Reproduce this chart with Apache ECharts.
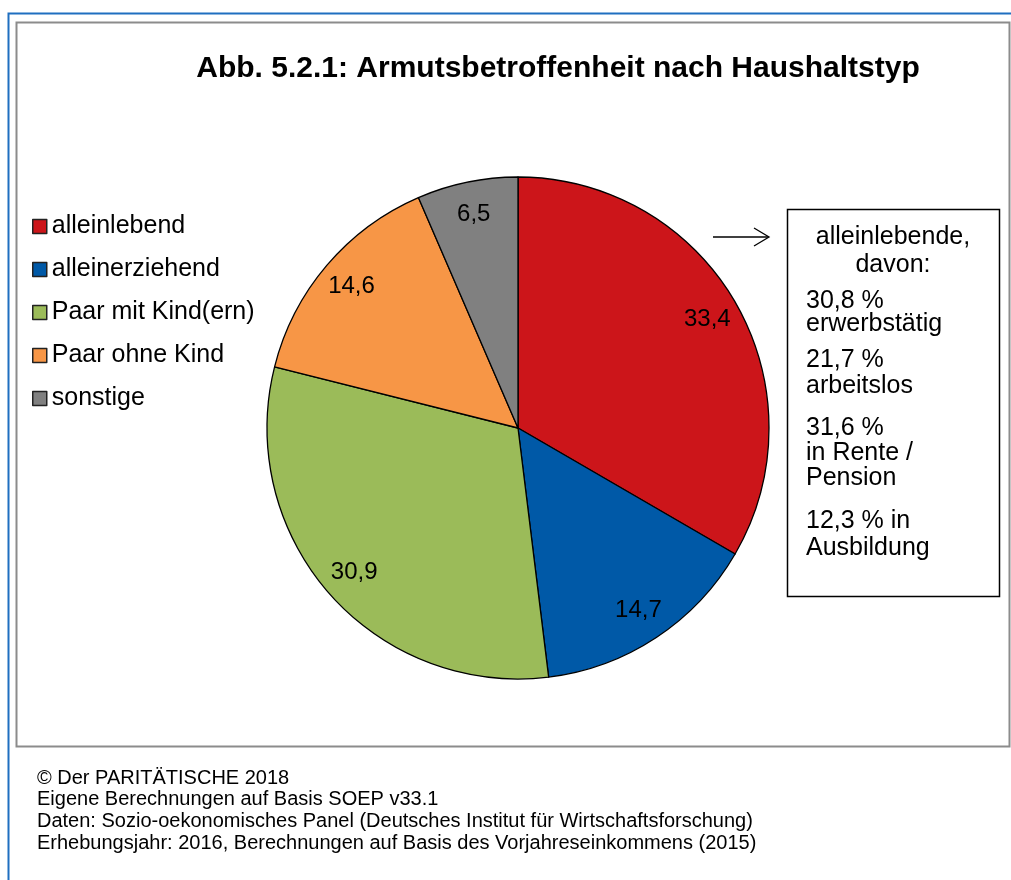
<!DOCTYPE html>
<html>
<head>
<meta charset="utf-8">
<script src="https://cdn.jsdelivr.net/npm/echarts@6/dist/echarts.min.js"></script>
<style>
  html, body { margin:0; padding:0; background:#fff; }
  #main { width:1011px; height:880px; }
</style>
</head>
<body>
<div id="main"></div>
<script>
// Haushaltstypen und Anteile (in %)
var kategorien = ['alleinlebend', 'alleinerziehend', 'Paar mit Kind(ern)', 'Paar ohne Kind', 'sonstige'];
var anteile = [33.4, 14.7, 30.9, 14.6, 6.5];
var farben = ['#CC151A', '#0059A7', '#9BBB59', '#F79646', '#808080'];

var boxZeilen = [
    {text:'alleinlebende,', x:893, y:237, align:'center'},
    {text:'davon:', x:893, y:265, align:'center'},
    {text:'30,8 %', x:806, y:301},
    {text:'erwerbstätig', x:806, y:324},
    {text:'21,7 %', x:806, y:360},
    {text:'arbeitslos', x:806, y:386},
    {text:'31,6 %', x:806, y:428},
    {text:'in Rente /', x:806, y:453},
    {text:'Pension', x:806, y:478},
    {text:'12,3 % in', x:806, y:521},
    {text:'Ausbildung', x:806, y:548}
];
var fussnoten = [
    '© Der PARITÄTISCHE 2018',
    'Eigene Berechnungen auf Basis SOEP v33.1',
    'Daten: Sozio-oekonomisches Panel (Deutsches Institut für Wirtschaftsforschung)',
    'Erhebungsjahr: 2016, Berechnungen auf Basis des Vorjahreseinkommens (2015)'
];

var font = 'Arial, "Liberation Sans", sans-serif';

var daten = [];
for (var i = 0; i < kategorien.length; i++) {
    daten.push({name: kategorien[i], value: anteile[i], itemStyle: {color: farben[i]}});
}
var labelDaten = [];
for (var i = 0; i < kategorien.length; i++) {
    labelDaten.push({name: kategorien[i], value: anteile[i]});
}

var grafik = [
    // Rahmen
    {type:'rect', shape:{x:8.5, y:13.5, width:1010, height:880}, style:{fill:'none', stroke:'#1F6FC0', lineWidth:2}},
    {type:'rect', shape:{x:16.5, y:22.5, width:993, height:724}, style:{fill:'none', stroke:'#8C8C8C', lineWidth:2}},
    // Pfeil
    {type:'line', shape:{x1:713, y1:237, x2:768, y2:237}, style:{stroke:'#000', lineWidth:1.3}},
    {type:'polyline', shape:{points:[[754, 228], [769, 237], [754, 246]]}, style:{fill:'none', stroke:'#000', lineWidth:1.3}},
    // Textbox
    {type:'rect', shape:{x:787.5, y:209.5, width:212, height:387}, style:{fill:'#fff', stroke:'#000', lineWidth:1.5}}
];
boxZeilen.forEach(function(z){
    grafik.push({type:'text', x:z.x, y:z.y, style:{text:z.text, font:'25px ' + font, fill:'#000',
        textAlign:z.align || 'left', textVerticalAlign:'middle'}});
});
fussnoten.forEach(function(t, i){
    grafik.push({type:'text', x:37, y:778 + i * 21.8, style:{text:t, font:'20px ' + font, fill:'#000',
        textAlign:'left', textVerticalAlign:'middle'}});
});

var myChart = echarts.init(document.getElementById('main'));
myChart.setOption({
    animation: false,
    title: {
        text: 'Abb. 5.2.1: Armutsbetroffenheit nach Haushaltstyp',
        left: 553,
        top: 49,
        textAlign: 'center',
        textStyle: {fontFamily: font, fontSize: 30, fontWeight: 'bold', color: '#000'}
    },
    legend: {
        orient: 'vertical',
        left: 32,
        top: 214,
        padding: 0,
        itemWidth: 14,
        itemHeight: 14,
        itemGap: 18,
        icon: 'rect',
        selectedMode: false,
        data: kategorien,
        itemStyle: {borderColor: '#222', borderWidth: 1.5},
        textStyle: {fontFamily: font, fontSize: 25, color: '#000', lineHeight: 25}
    },
    graphic: grafik,
    series: [
        {
            type: 'pie',
            center: [518, 428],
            radius: [0, 251],
            startAngle: 90,
            clockwise: true,
            silent: true,
            label: {show: false},
            labelLine: {show: false},
            itemStyle: {borderColor: '#000', borderWidth: 1.3},
            data: daten
        },
        {
            // unsichtbarer Ring nur fuer die Beschriftungen
            type: 'pie',
            center: [518, 428],
            radius: [180, 251],
            startAngle: 90,
            clockwise: true,
            silent: true,
            legendHoverLink: false,
            itemStyle: {color: 'rgba(0,0,0,0)', borderWidth: 0},
            label: {
                show: true,
                position: 'inside',
                fontFamily: font,
                fontSize: 24,
                color: '#000',
                formatter: function(p){ return String(p.value).replace('.', ','); }
            },
            labelLine: {show: false},
            data: labelDaten
        }
    ]
});
</script>
</body>
</html>
